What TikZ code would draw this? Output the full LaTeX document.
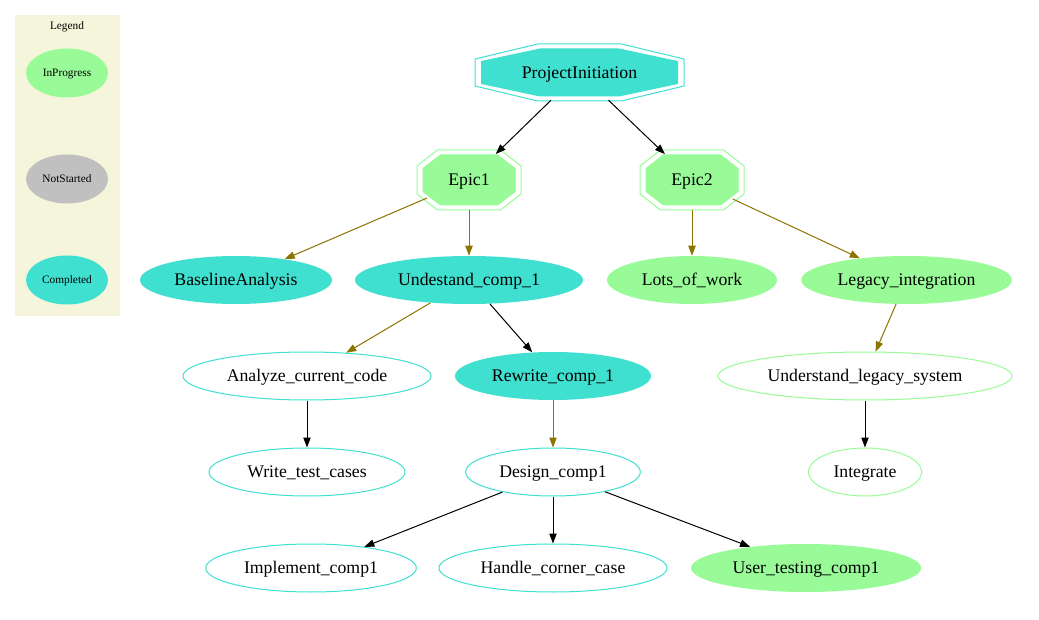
\documentclass[tikz,border=0pt]{standalone}
\usepackage{fontspec}
\setmainfont{Liberation Serif}
\usetikzlibrary{shapes.geometric,arrows.meta}
\definecolor{turq}{HTML}{40E0D0}
\definecolor{pgreen}{HTML}{98FB98}
\definecolor{lgrey}{HTML}{C0C0C0}
\definecolor{beigec}{HTML}{F5F5DC}
\definecolor{olivec}{HTML}{8B7500}
\tikzset{
  txt/.style={font=\fontsize{13.3}{15}\selectfont, text height=9.6pt, text depth=1.2pt},
  base/.style={ellipse, inner sep=0pt, minimum height=36pt, txt},
  donefill/.style={base, fill=turq},
  progfill/.style={base, fill=pgreen},
  doneline/.style={base, draw=turq, line width=0.75pt},
  progline/.style={base, draw=pgreen, line width=0.75pt},
  legnode/.style={ellipse, inner sep=0pt, minimum width=61.5pt, minimum height=36.75pt, font=\fontsize{8.5}{10}\selectfont, text height=6pt, text depth=0.8pt},
  octbox/.style={ellipse, inner sep=0pt, txt},
  blk/.style={draw=black, line width=0.75pt, -{Triangle[length=7.5pt,width=5.5pt]}},
  olv/.style={draw=olivec, line width=0.75pt, -{Triangle[length=7.5pt,width=5.5pt]}},
}
\newcommand\octpath[4]{(-#2,-#3) -- (#2,-#3) -- (#1,-#4) -- (#1,#4) -- (#2,#3) -- (-#2,#3) -- (-#1,#4) -- (-#1,-#4) -- cycle}
\begin{document}
\begin{tikzpicture}[x=0.75pt,y=-0.75pt]
\useasboundingbox (0,0) rectangle (1039,620);
\fill[white] (0,0) rectangle (1039,620);
% legend
\fill[beigec] (15,15) rectangle (120,316);
\node[font=\fontsize{8.5}{10}\selectfont, text height=6pt, text depth=0.8pt] (legtitle) at (67,26) {Legend};
\node[legnode, fill=pgreen] (lip) at (67,73) {InProgress};
\node[legnode, fill=lgrey] (lns) at (67,179) {NotStarted};
\node[legnode, fill=turq] (lco) at (67,280) {Completed};
% octagons
\node[octbox, minimum width=156.75pt, minimum height=42.75pt] (pi) at (579.5,72.5) {};
\begin{scope}[shift={(pi.center)}]
  \draw[turq, line width=0.75pt] \octpath{104.5}{42}{28.5}{13.5};
  \filldraw[fill=turq, draw=turq, line width=0.75pt] \octpath{98}{39.5}{23.5}{11};
\end{scope}
\node[txt] (pilabel) at (pi.center) {ProjectInitiation};
\node[octbox, minimum width=78pt, minimum height=45pt] (e1) at (469,180) {};
\node[octbox, minimum width=78pt, minimum height=45pt] (e2) at (692,180) {};
\foreach \n in {e1,e2}{
\begin{scope}[shift={(\n.center)}]
  \draw[pgreen, line width=0.75pt] \octpath{52}{31.5}{30}{14};
  \filldraw[fill=pgreen, draw=pgreen, line width=0.75pt] \octpath{46}{28.5}{25}{11.5};
\end{scope}}
\node[txt] (e1label) at (e1.center) {Epic1};
\node[txt] (e2label) at (e2.center) {Epic2};
% row 3
\node[donefill, minimum width=144pt] (ba) at (236,280) {BaselineAnalysis};
\node[donefill, minimum width=171pt] (uc) at (469,280) {Undestand\_comp\_1};
\node[progfill, minimum width=127.5pt] (lw) at (692,280) {Lots\_of\_work};
\node[progfill, minimum width=158pt] (li) at (906.5,280) {Legacy\_integration};
% row 4
\node[doneline, minimum width=186pt] (ac) at (307,376) {Analyze\_current\_code};
\node[donefill, minimum width=147pt] (rc) at (553,376) {Rewrite\_comp\_1};
\node[progline, minimum width=220.5pt] (ul) at (865,376) {Understand\_legacy\_system};
% row 5
\node[doneline, minimum width=147pt] (wt) at (307,472) {Write\_test\_cases};
\node[doneline, minimum width=131pt] (dc) at (553,472) {Design\_comp1};
\node[progline, minimum width=85pt] (ig) at (865,472) {Integrate};
% row 6
\node[doneline, minimum width=158pt] (ic) at (311,568) {Implement\_comp1};
\node[doneline, minimum width=171pt] (hc) at (553,568) {Handle\_corner\_case};
\node[progfill, minimum width=172.5pt] (ut) at (806,568) {User\_testing\_comp1};
% edges
\draw[blk] (pi) -- (e1);
\draw[blk] (pi) -- (e2);
\draw[olv] (e1) -- (ba);
\draw[olv] (e1) -- (uc);
\draw[olv] (e2) -- (lw);
\draw[olv] (e2) -- (li);
\draw[olv] (uc) -- (ac);
\draw[blk] (uc) -- (rc);
\draw[olv] (li) -- (ul);
\draw[blk] (ac) -- (wt);
\draw[olv] (rc) -- (dc);
\draw[blk] (ul) -- (ig);
\draw[blk] (dc) -- (ic);
\draw[blk] (dc) -- (hc);
\draw[blk] (dc) -- (ut);
\end{tikzpicture}
\end{document}
